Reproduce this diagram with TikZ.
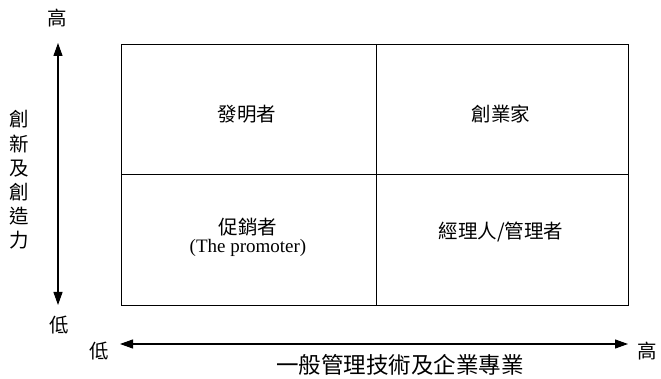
\documentclass[tikz,border=0pt]{standalone}
\usepackage{fontspec}
\setmainfont{Liberation Serif}
\newfontfamily\cjk{Noto Sans CJK TC}
\usetikzlibrary{arrows.meta}
\begin{document}
\begin{tikzpicture}[x=1pt,y=-1pt,
  lbl/.style={font=\cjk\fontsize{19.5}{22}\selectfont, inner sep=0pt},
  big/.style={font=\cjk\fontsize{22.5}{26}\selectfont, inner sep=0pt},
  eng/.style={font=\fontsize{19}{22}\selectfont, inner sep=0pt},
  axis/.style={line width=1.1pt, {Triangle[length=13pt,width=9pt]}-{Triangle[length=13pt,width=9pt]}},
  cell/.style={draw, line width=0.8pt}]
\useasboundingbox (0,0) rectangle (661,379);
% grid
\draw[cell] (121,44) rectangle (628,305);
\coordinate (mt) at (376,44); \coordinate (mb) at (376,305);
\coordinate (ml) at (121,174); \coordinate (mr) at (628,174);
\draw[cell] (mt) -- (mb);
\draw[cell] (ml) -- (mr);
% cell labels
\node[lbl] (inv) at (247,114) {發明者};
\node[lbl] (ent) at (501,114) {創業家};
\node[lbl] (pro) at (248,227) {促銷者};
\node[eng] (proen) at (248,248) {(The promoter)};
\node[lbl] (man) at (501,232) {經理人/管理者};
% vertical axis
\coordinate (vt) at (58,43); \coordinate (vb) at (58,305);
\draw[axis] (vb) -- (vt);
\node[lbl] (vhi) at (57,18) {高};
\node[lbl] (vlo) at (59,325) {低};
\node[lbl, align=center, font=\cjk\fontsize{19.5}{24.2}\selectfont] (vname) at (19,180) {創\\新\\及\\創\\造\\力};
% horizontal axis
\coordinate (hl) at (120,344); \coordinate (hr) at (628,344);
\draw[axis] (hl) -- (hr);
\node[lbl] (hlo) at (99,351) {低};
\node[lbl] (hhi) at (647,351) {高};
\node[big] (hname) at (400,365) {一般管理技術及企業專業};
\end{tikzpicture}
\end{document}
